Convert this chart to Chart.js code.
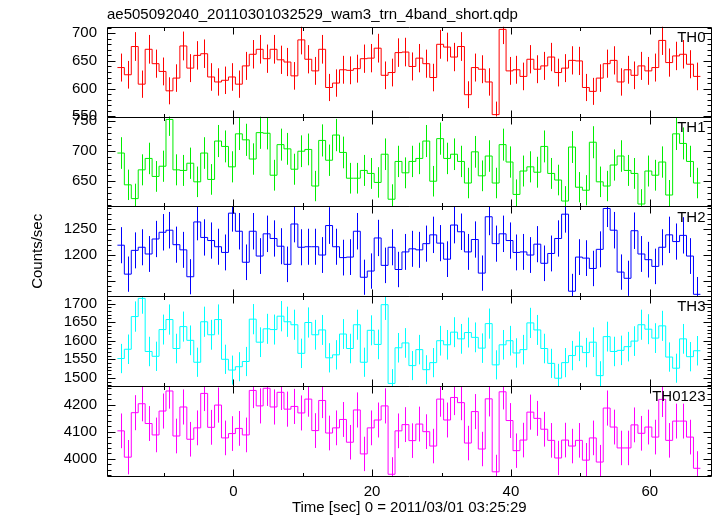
<!DOCTYPE html>
<html>
<head>
<meta charset="utf-8">
<title>WAM light curve</title>
<script src="https://cdn.jsdelivr.net/npm/chart.js@4.4.1/dist/chart.umd.min.js"></script>
<style>
  html, body { margin: 0; padding: 0; background: #fff; }
  #wrap { width: 717px; height: 516px; }
</style>
</head>
<body>
<div id="wrap"><canvas id="lc" width="717" height="516"></canvas></div>
<script>
// bin centres (sec from 2011/03/01 03:25:29), 1 s bins
const timeSec = [
  -16.2, -15.2, -14.2, -13.2, -12.2, -11.2, -10.2, -9.2, -8.2, -7.2,
  -6.2, -5.2, -4.2, -3.2, -2.2, -1.2, -0.2, 0.8, 1.8, 2.8,
  3.8, 4.8, 5.8, 6.8, 7.8, 8.8, 9.8, 10.8, 11.8, 12.8,
  13.8, 14.8, 15.8, 16.8, 17.8, 18.8, 19.8, 20.8, 21.8, 22.8,
  23.8, 24.8, 25.8, 26.8, 27.8, 28.8, 29.8, 30.8, 31.8, 32.8,
  33.8, 34.8, 35.8, 36.8, 37.8, 38.8, 39.8, 40.8, 41.8, 42.8,
  43.8, 44.8, 45.8, 46.8, 47.8, 48.8, 49.8, 50.8, 51.8, 52.8,
  53.8, 54.8, 55.8, 56.8, 57.8, 58.8, 59.8, 60.8, 61.8, 62.8,
  63.8, 64.8, 65.8, 66.8
];
const binHalf = 0.5;

// count rates (counts/sec) per band
const th0Rate = [
  638, 625, 676, 608, 671, 645, 631, 596, 619, 677,
  637, 660, 663, 621, 612, 615, 621, 608, 641, 662,
  671, 654, 671, 652, 648, 623, 688, 653, 632, 671,
  602, 610, 634, 633, 636, 654, 655, 673, 624, 629,
  665, 666, 640, 655, 645, 620, 680, 675, 657, 676,
  589, 638, 635, 612, 553, 707, 632, 634, 622, 653,
  635, 641, 657, 629, 637, 651, 650, 602, 595, 619,
  645, 651, 612, 634, 624, 641, 632, 638, 687, 647,
  659, 662, 644, 622
];
const th1Rate = [
  696, 643, 620, 668, 687, 657, 674, 752, 668, 667,
  679, 648, 696, 652, 716, 707, 673, 728, 718, 686,
  730, 729, 659, 710, 703, 669, 699, 702, 641, 717,
  684, 726, 697, 654, 654, 667, 662, 647, 694, 619,
  682, 663, 682, 687, 716, 649, 720, 687, 694, 682,
  646, 698, 658, 691, 646, 710, 681, 627, 666, 673,
  664, 707, 662, 651, 616, 706, 639, 634, 714, 648,
  641, 676, 691, 667, 662, 611, 666, 659, 681, 626,
  728, 712, 682, 646
];
const th2Rate = [
  1219, 1163, 1209, 1215, 1202, 1231, 1244, 1248, 1220, 1210,
  1158, 1264, 1234, 1228, 1216, 1205, 1281, 1246, 1186, 1246,
  1198, 1241, 1232, 1217, 1182, 1260, 1215, 1216, 1216, 1200,
  1257, 1216, 1195, 1196, 1246, 1157, 1169, 1233, 1180, 1215,
  1172, 1206, 1212, 1210, 1222, 1239, 1223, 1192, 1258, 1245,
  1206, 1230, 1165, 1274, 1222, 1241, 1228, 1205, 1206, 1200,
  1221, 1184, 1203, 1232, 1279, 1130, 1196, 1194, 1174, 1211,
  1290, 1248, 1167, 1155, 1247, 1202, 1191, 1178, 1215, 1239,
  1226, 1238, 1198, 1124
];
const th3Rate = [
  1552, 1577, 1665, 1714, 1571, 1558, 1630, 1657, 1579, 1638,
  1601, 1542, 1651, 1616, 1657, 1550, 1521, 1530, 1544, 1658,
  1596, 1632, 1630, 1666, 1651, 1643, 1566, 1649, 1616, 1629,
  1554, 1562, 1618, 1579, 1643, 1542, 1628, 1590, 1697, 1485,
  1581, 1594, 1533, 1576, 1522, 1541, 1600, 1589, 1623, 1605,
  1622, 1609, 1580, 1646, 1535, 1589, 1600, 1567, 1576, 1648,
  1629, 1579, 1539, 1499, 1541, 1560, 1585, 1568, 1596, 1506,
  1611, 1571, 1574, 1584, 1599, 1643, 1631, 1607, 1640, 1556,
  1526, 1605, 1557, 1573
];
const th0123Rate = [
  4103, 4006, 4170, 4203, 4130, 4088, 4176, 4250, 4084, 4191,
  4072, 4114, 4241, 4116, 4198, 4077, 4093, 4112, 4088, 4252,
  4195, 4260, 4191, 4245, 4183, 4193, 4169, 4220, 4104, 4215,
  4095, 4114, 4145, 4061, 4180, 4018, 4114, 4143, 4195, 3943,
  4103, 4126, 4067, 4128, 4100, 4047, 4220, 4143, 4226, 4207,
  4058, 4174, 4036, 4221, 3952, 4247, 4141, 4030, 4069, 4172,
  4149, 4109, 4068, 4003, 4069, 4047, 4068, 3995, 4077, 3988,
  4187, 4117, 4040, 4040, 4125, 4094, 4117, 4080, 4219, 4068,
  4139, 4139, 4080, 3965
];

// tick labels
const xTickLabels = [0, 20, 40, 60];
const th0Ticks = [550, 600, 650, 700];
const th1Ticks = [650, 700, 750];
const th2Ticks = [1200, 1250];
const th3Ticks = [1500, 1550, 1600, 1650, 1700];
const th0123Ticks = [4000, 4100, 4200];

// panel setup (top to bottom)
const panels = [
  { id: 'yTH0',    label: 'TH0',    color: '#ff0000', rate: th0Rate,    ticks: th0Ticks,    min: 549.5,  max: 711.8,  major: 50,  minor: 10 },
  { id: 'yTH1',    label: 'TH1',    color: '#00ee00', rate: th1Rate,    ticks: th1Ticks,    min: 607,    max: 756.8,  major: 50,  minor: 10 },
  { id: 'yTH2',    label: 'TH2',    color: '#0000ff', rate: th2Rate,    ticks: th2Ticks,    min: 1120.2, max: 1294,   major: 50,  minor: 10 },
  { id: 'yTH3',    label: 'TH3',    color: '#00ffff', rate: th3Rate,    ticks: th3Ticks,    min: 1477.7, max: 1719.6, major: 50,  minor: 10 },
  { id: 'yTH0123', label: 'TH0123', color: '#ff00ff', rate: th0123Rate, ticks: th0123Ticks, min: 3936.6, max: 4267.8, major: 100, minor: 20 }
];

const FONT = '"Liberation Sans", Arial, Helvetica, sans-serif';
Chart.defaults.font.family = FONT;
Chart.defaults.font.size = 15;
Chart.defaults.color = '#000';

// histogram outline: left bin edges, plus the right edge of the last bin
function stepPoints(rate) {
  const pts = rate.map((v, i) => ({ x: timeSec[i] - binHalf, y: v }));
  pts.push({ x: timeSec[timeSec.length - 1] + binHalf, y: rate[rate.length - 1] });
  return pts;
}

const scales = {
  x: {
    type: 'linear',
    min: -18.2,
    max: 68.9,
    grid: { display: false, drawTicks: false },
    border: { display: false },
    afterBuildTicks(s) { s.ticks = xTickLabels.map(v => ({ value: v })); },
    ticks: { padding: 7, autoSkip: false, maxRotation: 0, callback: v => String(v) },
    title: { display: true, text: 'Time [sec] 0 = 2011/03/01 03:25:29', padding: { top: 0, bottom: -1 } },
    afterFit(s) { s.height = 40; }
  }
};
// stacked axes on the left: the last one defined ends up on top
panels.slice().reverse().forEach(p => {
  scales[p.id] = {
    type: 'linear',
    position: 'left',
    stack: 'bands',
    stackWeight: 1,
    min: p.min,
    max: p.max,
    grid: { display: false, drawTicks: false },
    border: { display: false },
    afterBuildTicks(s) { s.ticks = p.ticks.map(v => ({ value: v })); },
    ticks: { autoSkip: false, padding: 10, callback: v => String(v) },
    title: {
      display: p.id === 'yTH2',
      text: 'Counts/sec',
      padding: { top: 29, bottom: 0 }
    },
    afterFit(s) { s.width = 107; }
  };
});

const qdpPlugin = {
  id: 'qdpFrames',
  beforeDatasetsDraw(chart) {
    // error bars, clipped to their own panel
    const ctx = chart.ctx;
    const xs = chart.scales.x;
    const area = chart.chartArea;
    panels.forEach(p => {
      const ys = chart.scales[p.id];
      ctx.save();
      ctx.beginPath();
      ctx.rect(area.left, ys.top, area.right - area.left, ys.bottom - ys.top);
      ctx.clip();
      ctx.strokeStyle = p.color;
      ctx.lineWidth = 1;
      ctx.beginPath();
      p.rate.forEach((v, i) => {
        const err = Math.sqrt(v); // 1 s bins: poisson error on the counts
        const px = Math.round(xs.getPixelForValue(timeSec[i])) + 0.5;
        ctx.moveTo(px, ys.getPixelForValue(v - err));
        ctx.lineTo(px, ys.getPixelForValue(v + err));
      });
      ctx.stroke();
      ctx.restore();
    });
  },
  afterDraw(chart) {
    const ctx = chart.ctx;
    const xs = chart.scales.x;
    const area = chart.chartArea;
    ctx.save();
    ctx.strokeStyle = '#000';
    ctx.lineWidth = 1;
    panels.forEach(p => {
      const ys = chart.scales[p.id];
      const top = Math.round(ys.top) + 0.5;
      const bot = Math.round(ys.bottom) + 0.5;
      const left = Math.round(area.left) + 0.5;
      const right = Math.round(area.right) - 0.5;
      ctx.beginPath();
      ctx.rect(left, top, right - left, bot - top);
      // x ticks (inward from top and bottom)
      for (let k = Math.ceil(xs.min / 10); k <= Math.floor(xs.max / 10); k++) {
        const v = k * 10;
        const len = v % 20 === 0 ? 7 : 3.5;
        const px = Math.round(xs.getPixelForValue(v)) + 0.5;
        ctx.moveTo(px, top); ctx.lineTo(px, top + len);
        ctx.moveTo(px, bot); ctx.lineTo(px, bot - len);
      }
      // y ticks (inward from left and right)
      for (let k = Math.ceil(p.min / p.minor); k <= Math.floor(p.max / p.minor); k++) {
        const v = k * p.minor;
        const len = v % p.major === 0 ? 8 : 4;
        const py = Math.round(ys.getPixelForValue(v)) + 0.5;
        ctx.moveTo(left, py); ctx.lineTo(left + len, py);
        ctx.moveTo(right, py); ctx.lineTo(right - len, py);
      }
      ctx.stroke();
      // band name
      ctx.fillStyle = '#000';
      ctx.font = '15px ' + FONT;
      ctx.textAlign = 'right';
      ctx.textBaseline = 'middle';
      ctx.fillText(p.label, area.right - 6, ys.top + 11);
    });
    ctx.restore();
  }
};

new Chart(document.getElementById('lc'), {
  type: 'line',
  data: {
    datasets: panels.map(p => ({
      label: p.label,
      data: stepPoints(p.rate),
      yAxisID: p.id,
      borderColor: p.color,
      borderWidth: 1,
      pointRadius: 0,
      stepped: true,
      fill: false,
      tension: 0
    }))
  },
  options: {
    responsive: false,
    animation: false,
    devicePixelRatio: 1,
    layout: { padding: { left: 0, right: 5.5, top: 0, bottom: 0 } },
    plugins: {
      legend: { display: false },
      tooltip: { enabled: false },
      title: {
        display: true,
        text: 'ae505092040_20110301032529_wam3_trn_4band_short.qdp',
        align: 'start',
        fullSize: false,
        color: '#000',
        font: { size: 15, weight: 'normal' },
        padding: { top: 6, bottom: 2.7 }
      }
    },
    scales: scales
  },
  plugins: [qdpPlugin]
});
</script>
</body>
</html>
